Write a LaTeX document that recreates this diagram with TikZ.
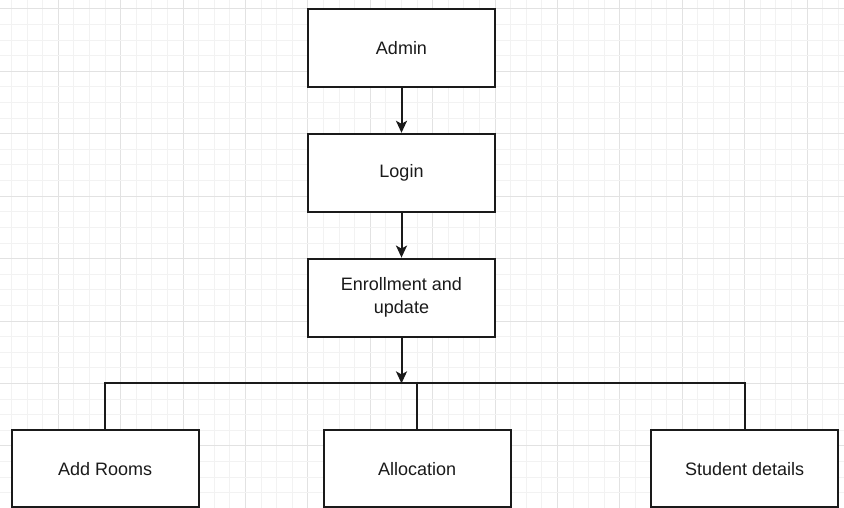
\documentclass[tikz,border=0pt]{standalone}
\usepackage{fontspec}
\setmainfont{Liberation Sans}
\usetikzlibrary{arrows.meta}
\definecolor{gridminor}{HTML}{F2F2F2}
\definecolor{gridmajor}{HTML}{E2E2E2}
\definecolor{ink}{HTML}{1A1A1A}
\tikzset{
  box/.style={draw=ink, line width=2pt, fill=white, rectangle,
    minimum width=187.2pt, minimum height=78pt, inner sep=0pt,
    font=\fontsize{18}{23}\selectfont, text=ink, align=center},
  flow/.style={draw=ink, line width=2pt,
    -{Stealth[length=12pt,width=11pt,inset=3pt]}},
  link/.style={draw=ink, line width=2pt}
}
\begin{document}
\begin{tikzpicture}[x=1pt,y=-1pt]
\useasboundingbox (0,0) rectangle (844,508);
\fill[white] (0,0) rectangle (844,508);
% background grid: minor every 15.6, major every 4th line
\foreach \k in {-3,...,50}{
  \pgfmathsetmacro{\xx}{58.3+15.6*\k}
  \pgfmathtruncatemacro{\m}{mod(\k+400,4)}
  \ifnum\m=0
    \draw[gridmajor, line width=1pt] (\xx,0) -- (\xx,508);
  \else
    \draw[gridminor, line width=1pt] (\xx,0) -- (\xx,508);
  \fi
}
\foreach \k in {0,...,32}{
  \pgfmathsetmacro{\yy}{9+15.6*\k}
  \pgfmathtruncatemacro{\m}{mod(\k,4)}
  \ifnum\m=0
    \draw[gridmajor, line width=1pt] (0,\yy) -- (844,\yy);
  \else
    \draw[gridminor, line width=1pt] (0,\yy) -- (844,\yy);
  \fi
}
% boxes
\node[box] (admin) at (401.5,48) {Admin};
\node[box] (login) at (401.5,172.8) {Login};
\node[box] (enroll) at (401.5,297.6) {Enrollment and\\update};
\node[box, minimum height=76.8pt] (rooms) at (105.1,468.6) {Add Rooms};
\node[box, minimum height=76.8pt] (alloc) at (417.1,468.6) {Allocation};
\node[box, minimum height=76.8pt] (student) at (744.7,468.6) {Student details};
% connectors
\coordinate (bus) at (401.5,383.4);
\draw[flow] (admin) -- (login);
\draw[flow] (login) -- (enroll);
\draw[flow] (enroll) -- (bus);
\draw[link] (rooms.north) -- (rooms.north |- bus) -- (student.north |- bus) -- (student.north);
\draw[link] (alloc.north) -- (alloc.north |- bus);
\end{tikzpicture}
\end{document}
